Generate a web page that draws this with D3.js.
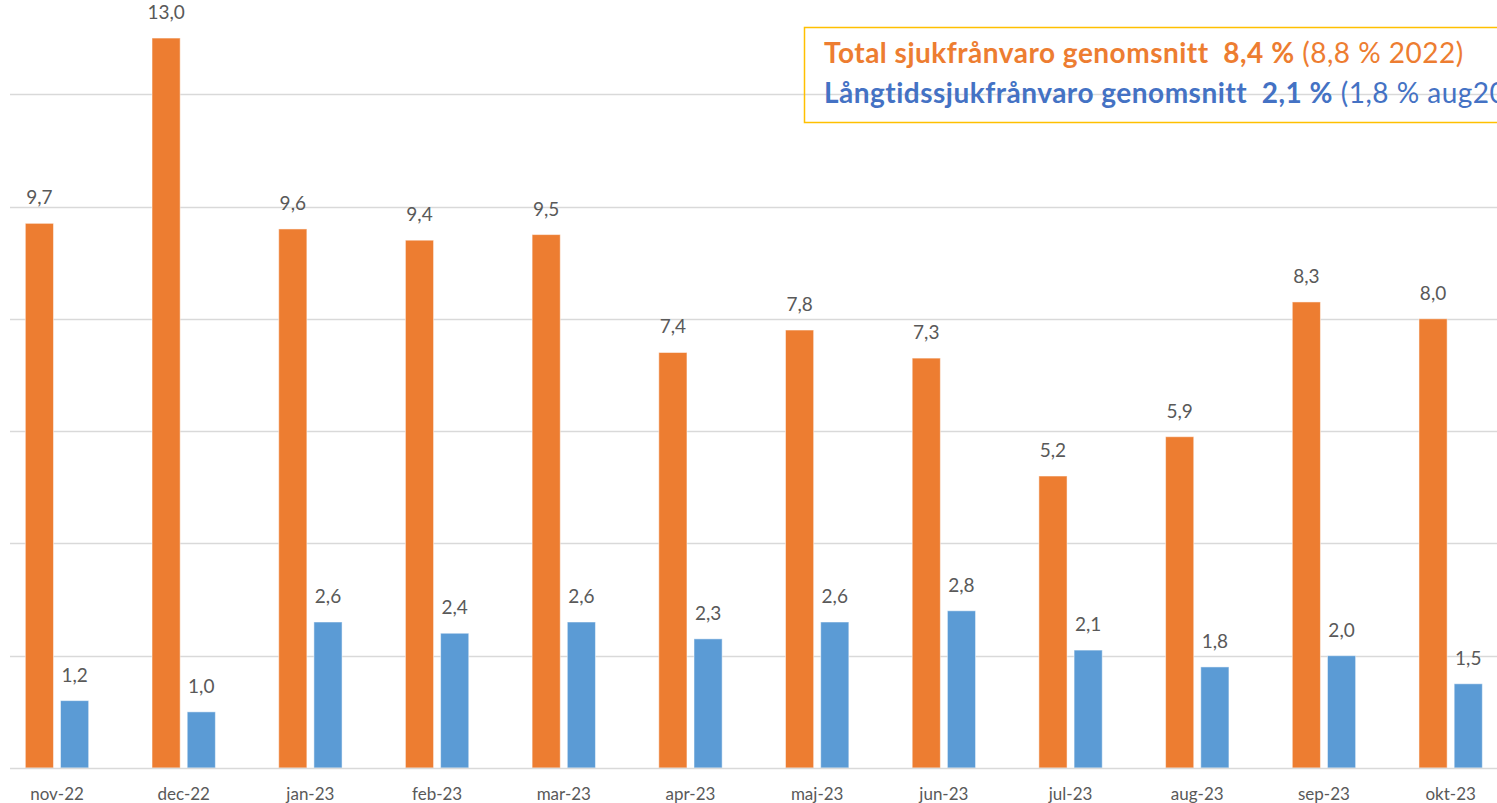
<!DOCTYPE html>
<html>
<head>
<meta charset="utf-8">
<script src="https://cdn.jsdelivr.net/npm/d3@7"></script>
<style>
  html, body { margin: 0; padding: 0; background: #fff; }
  svg { display: block; font-family: Lato, "Open Sans", sans-serif; }
</style>
</head>
<body>
<div></div>
<script>
var width = 1497;
var height = 803;

var months = ['nov-22', 'dec-22', 'jan-23', 'feb-23', 'mar-23', 'apr-23',
              'maj-23', 'jun-23', 'jul-23', 'aug-23', 'sep-23', 'okt-23'];
var total = [9.7, 13.0, 9.6, 9.4, 9.5, 7.4, 7.8, 7.3, 5.2, 5.9, 8.3, 8.0];
var longterm = [1.2, 1.0, 2.6, 2.4, 2.6, 2.3, 2.6, 2.8, 2.1, 1.8, 2.0, 1.5];
var gridValues = [2, 4, 6, 8, 10, 12];

var keys = ['total', 'longterm'];
var colors = { total: '#ED7D31', longterm: '#5B9BD5' };

var data = months.map(function (m, i) {
    return { name: m, total: total[i], longterm: longterm[i] };
});

var svg = d3.select('div')
    .append('svg').attr('width', width).attr('height', height);

var baseY = 768;

var x0 = d3.scaleBand()
    .domain(months)
    .range([-6.35, 1514])
    .paddingInner(0.5)
    .paddingOuter(0.25);

var x1 = d3.scaleBand()
    .domain(keys)
    .range([0, x0.bandwidth()])
    .paddingInner(0.2);

var y = d3.scaleLinear()
    .domain([0, 13])
    .range([baseY, baseY - 13 * 56.15]);

var fmt = function (v) { return d3.format('.1f')(v).replace('.', ','); };

// gridlines
svg.append('g')
    .selectAll('line')
    .data(gridValues)
    .enter()
    .append('line')
    .attr('x1', 10).attr('x2', width)
    .attr('y1', function (d) { return Math.round(y(d)) + 0.5; })
    .attr('y2', function (d) { return Math.round(y(d)) + 0.5; })
    .attr('stroke', '#d9d9d9')
    .attr('stroke-width', 1.5);

// bars
var groups = svg.append('g')
    .selectAll('g')
    .data(data)
    .enter()
    .append('g')
        .attr('transform', function (d) { return 'translate(' + x0(d.name) + ', 0)'; });

var items = groups.selectAll('g')
    .data(function (d) {
        return keys.map(function (key) { return { key: key, value: d[key] }; });
    })
    .enter()
    .append('g');

items.append('rect')
    .attr('x', function (d) { return x1(d.key); })
    .attr('y', function (d) { return y(d.value); })
    .attr('width', x1.bandwidth())
    .attr('height', function (d) { return baseY - y(d.value); })
    .attr('fill', function (d) { return colors[d.key]; })
    .attr('stroke', '#fff')
    .attr('stroke-opacity', 0.5)
    .attr('stroke-width', 1);

items.append('text')
    .attr('x', function (d) { return x1(d.key) + x1.bandwidth() / 2; })
    .attr('y', function (d) { return y(d.value) - 19; })
    .attr('text-anchor', 'middle')
    .attr('font-size', 19)
    .attr('fill', '#595959')
    .text(function (d) { return fmt(d.value); });

// axis line
svg.append('line')
    .attr('x1', 10).attr('x2', width)
    .attr('y1', baseY + 0.5).attr('y2', baseY + 0.5)
    .attr('stroke', '#d9d9d9')
    .attr('stroke-width', 1.5);

// x axis labels
var xAxis = svg.append('g')
    .attr('transform', 'translate(0,' + baseY + ')')
    .call(d3.axisBottom(x0).tickSize(0).tickPadding(0));
xAxis.select('.domain').remove();
xAxis.selectAll('text')
    .attr('dy', null)
    .attr('y', 32)
    .attr('font-family', 'Lato, sans-serif')
    .attr('font-size', 17)
    .attr('fill', '#595959');

// average box
svg.append('rect')
    .attr('x', 804.5).attr('y', 27.5)
    .attr('width', 720).attr('height', 95)
    .attr('fill', 'none')
    .attr('stroke', '#FFC000')
    .attr('stroke-width', 1.5);

var t1 = svg.append('text')
    .attr('x', 824).attr('y', 63)
    .attr('font-size', 28)
    .attr('letter-spacing', 0.5)
    .style('white-space', 'pre')
    .attr('fill', '#ED7D31');
t1.append('tspan').attr('font-weight', 'bold').text('Total sjukfrånvaro genomsnitt  8,4 %');
t1.append('tspan').text(' (8,8 % 2022)');

var t2 = svg.append('text')
    .attr('x', 824).attr('y', 103)
    .attr('font-size', 28)
    .attr('letter-spacing', 0.5)
    .style('white-space', 'pre')
    .attr('fill', '#4472C4');
t2.append('tspan').attr('font-weight', 'bold').text('Långtidssjukfrånvaro genomsnitt  2,1 %');
t2.append('tspan').text(' (1,8 % aug2022)');
</script>
</body>
</html>
